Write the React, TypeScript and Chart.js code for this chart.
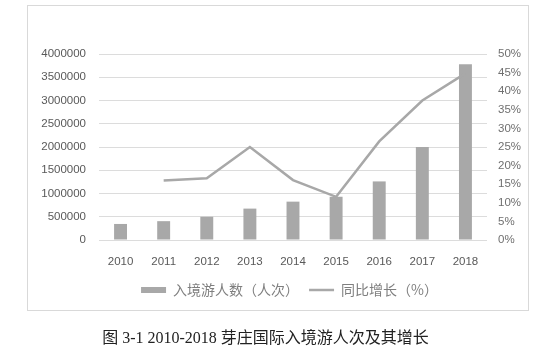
import React, { useEffect, useRef } from "react";
import { Chart, registerables } from "chart.js";

Chart.register(...registerables);

const years = ["2010", "2011", "2012", "2013", "2014", "2015", "2016", "2017", "2018"];
const visitors = [345000, 405000, 500000, 675000, 825000, 930000, 1260000, 2000000, 3780000];
const growthPct = [null, 16.0, 16.6, 25.0, 16.1, 11.6, 26.5, 37.5, 44.8];
const barLabel = "入境游人数（人次）";
const lineLabel = "同比增长（%）";
const caption = "图 3-1 2010-2018 芽庄国际入境游人次及其增长";

const tickFont = { family: "'Liberation Sans', Arial, sans-serif", size: 11.5 };

export default function App() {
  const ref = useRef<HTMLCanvasElement | null>(null);

  useEffect(() => {
    if (!ref.current) return;
    const chart = new Chart(ref.current, {
      type: "bar",
      data: {
        labels: years,
        datasets: [
          {
            type: "bar",
            label: barLabel,
            data: visitors,
            backgroundColor: "#a8a8a8",
            borderWidth: 0,
            barPercentage: 0.3,
            categoryPercentage: 1,
            yAxisID: "y",
            pointStyle: "rect",
            order: 2,
          } as any,
          {
            type: "line",
            label: lineLabel,
            data: growthPct,
            borderColor: "#a8a8a8",
            backgroundColor: "#a8a8a8",
            borderWidth: 2.5,
            pointRadius: 0,
            pointStyle: "line",
            tension: 0,
            spanGaps: false,
            yAxisID: "y1",
            order: 1,
          } as any,
        ],
      },
      options: {
        animation: false,
        responsive: false,
        maintainAspectRatio: false,
        layout: { padding: { left: 28, right: 0, top: 54, bottom: 41 } },
        plugins: {
          tooltip: { enabled: false },
          legend: {
            position: "bottom",
            labels: {
              usePointStyle: true,
              pointStyleWidth: 25,
              boxHeight: 6,
              padding: 10,
              color: "#7f7f7f",
              font: { family: "'Noto Sans CJK SC', sans-serif", size: 14 },
              sort: (a: any, b: any) => a.datasetIndex - b.datasetIndex,
            },
          },
        },
        scales: {
          x: {
            grid: { display: false, drawTicks: false },
            border: { display: false },
            ticks: { color: "#595959", font: tickFont, padding: 15 },
            afterFit: (s: any) => {
              s.height = 33;
            },
          },
          y: {
            position: "left",
            min: 0,
            max: 4000000,
            grid: { color: "#dcdcdc", drawTicks: false },
            border: { display: false },
            ticks: {
              stepSize: 500000,
              color: "#595959",
              font: tickFont,
              padding: 13,
              callback: (v: any) => String(v),
            },
            afterFit: (s: any) => {
              s.width = 71;
            },
          },
          y1: {
            position: "right",
            min: 0,
            max: 50,
            grid: { display: false, drawTicks: false },
            border: { display: false },
            ticks: {
              stepSize: 5,
              color: "#6f6f6f",
              font: tickFont,
              padding: 11,
              callback: (v: any) => `${v}%`,
            },
            afterFit: (s: any) => {
              s.width = 64;
            },
          },
        },
      },
    });
    return () => chart.destroy();
  }, []);

  return (
    <div style={{ position: "absolute", left: 0, top: 0, width: 551, height: 348, background: "#fff", overflow: "hidden" }}>
      <div
        style={{
          position: "absolute",
          left: 27,
          top: 5,
          width: 500,
          height: 304,
          border: "1px solid #d9d9d9",
        }}
      />
      <canvas ref={ref} width={551} height={348} style={{ position: "absolute", left: 0, top: 0, width: 551, height: 348 }} />
      <div
        style={{
          position: "absolute",
          left: 0,
          width: 531,
          top: 328,
          textAlign: "center",
          fontFamily: "'Liberation Serif', 'Noto Sans CJK SC', serif",
          fontSize: 16,
          lineHeight: "20px",
          color: "#222",
          whiteSpace: "nowrap",
        }}
      >
        {caption}
      </div>
    </div>
  );
}
